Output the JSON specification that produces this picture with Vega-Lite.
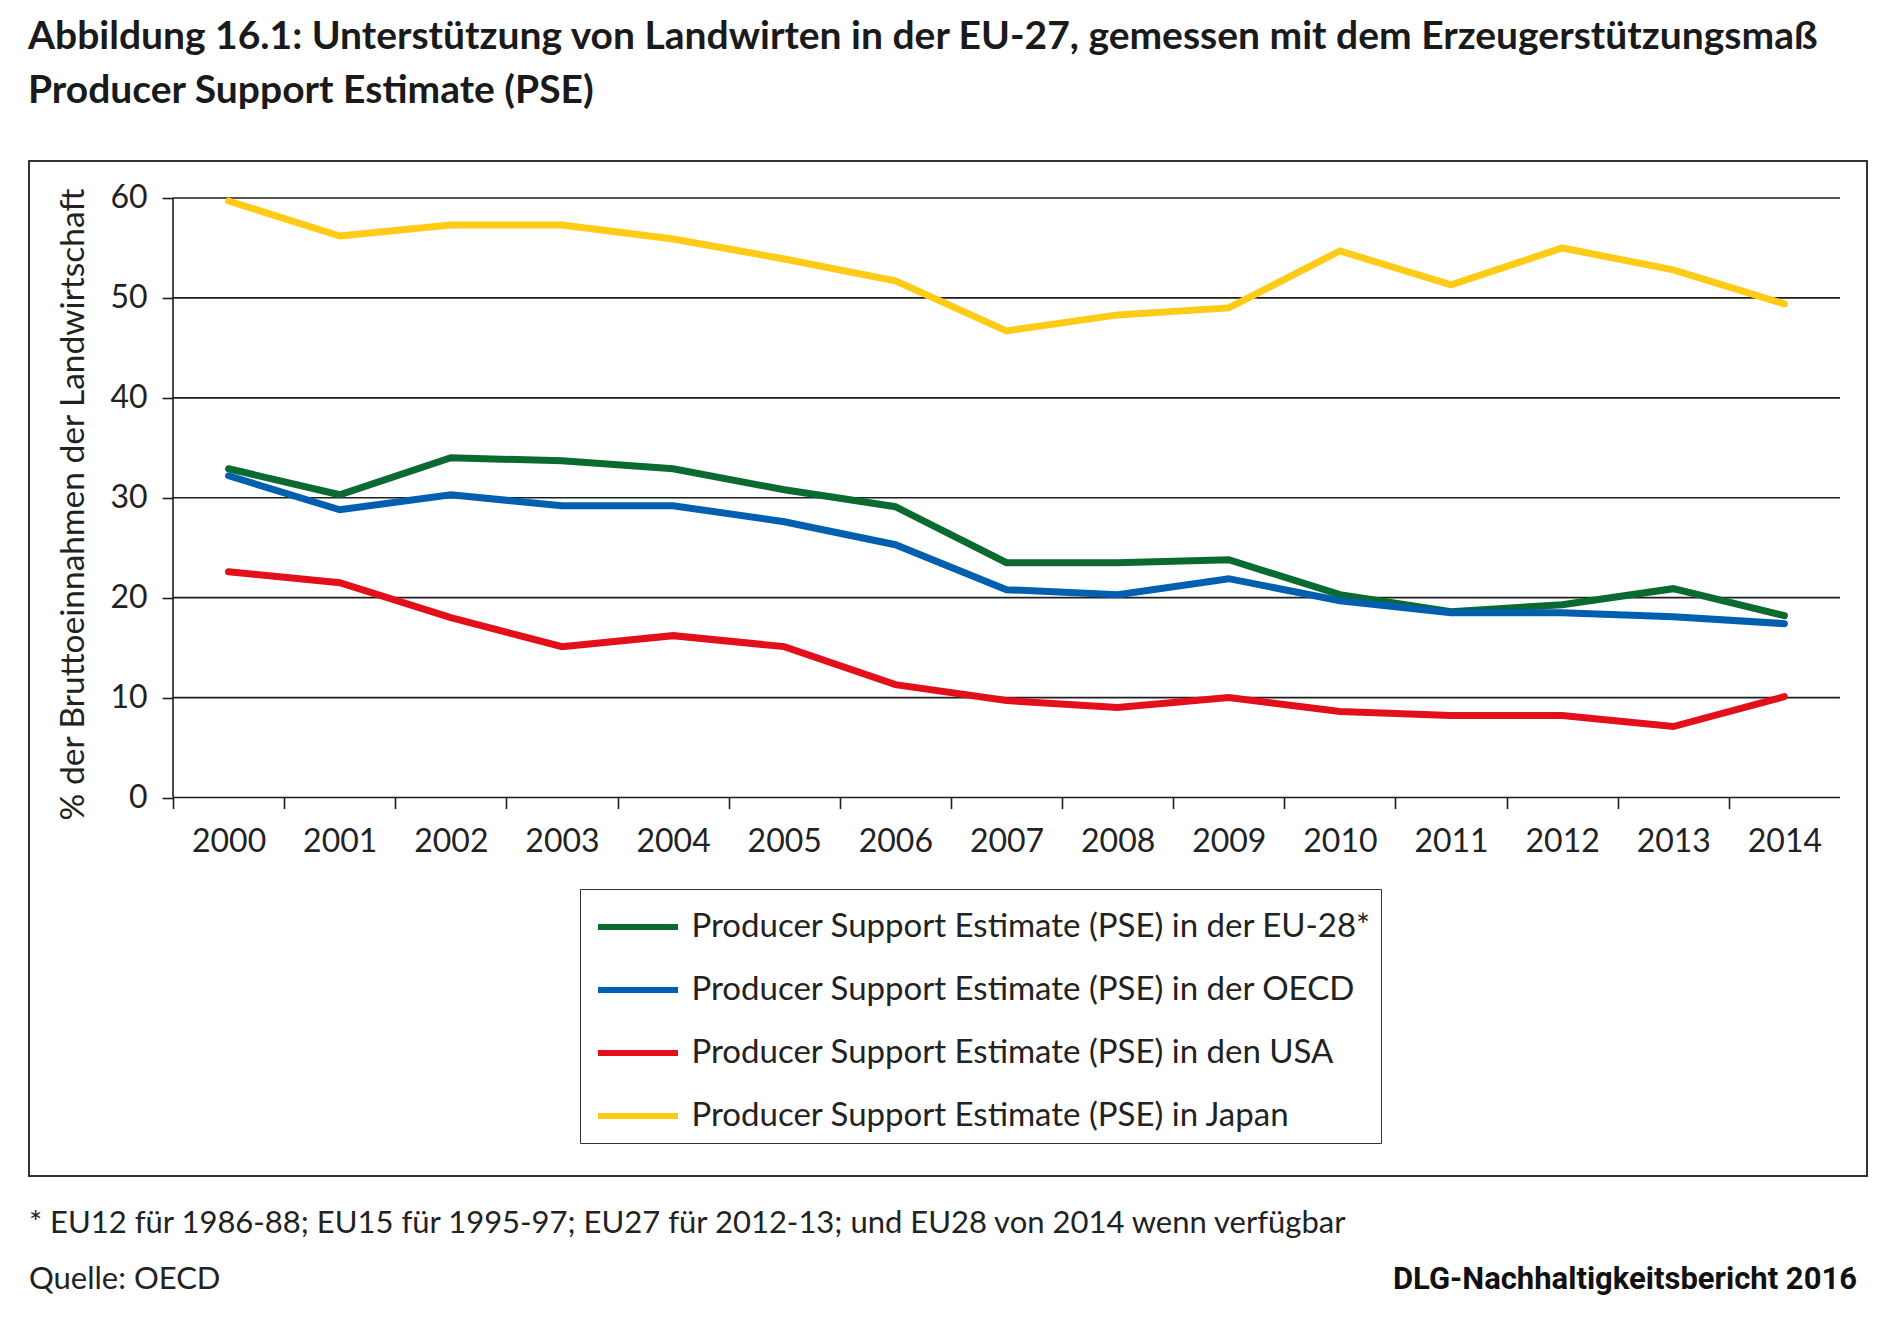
{
  "$schema": "https://vega.github.io/schema/vega-lite/v6.json",
  "background": "white",
  "padding": {"left": 28, "top": 18, "right": 34, "bottom": 30},
  "bounds": "flush",
  "spacing": 57,
  "title": {
    "text": ["Abbildung 16.1: Unterstützung von Landwirten in der EU-27, gemessen mit dem Erzeugerstützungsmaß", "Producer Support Estimate (PSE)"],
    "anchor": "start",
    "font": "Lato",
    "fontSize": 39,
    "fontWeight": "bold",
    "color": "#1a1a1a",
    "lineHeight": 54,
    "offset": 49
  },
  "config": {"font": "Lato"},
  "vconcat": [
    {
      "width": 1838,
      "height": 1015,
      "view": {"stroke": "#333333", "strokeWidth": 2},
      "layer": [
        {
          "data": {"values": [{"wert": 0}, {"wert": 10}, {"wert": 20}, {"wert": 30}, {"wert": 40}, {"wert": 50}, {"wert": 60}]},
          "mark": {"type": "rule", "color": "#1e1e1e", "strokeWidth": 1.6},
          "encoding": {
            "y": {"field": "wert", "type": "quantitative", "scale": {"domain": [-37.88, 63.703], "nice": false, "zero": false},
              "axis": {"values": [0, 10, 20, 30, 40, 50, 60], "tickSize": 11, "tickColor": "#1e1e1e", "tickWidth": 1.6, "domain": false, "grid": false, "labelPadding": 15, "labelFontSize": 32, "labelFont": "Lato", "labelColor": "#222222", "labelFlush": false, "offset": -144, "title": "% der Bruttoeinnahmen der Landwirtschaft", "titleFont": "Lato", "titleFontSize": 33.5, "titleFontWeight": "normal", "titleColor": "#222222", "titleX": -90, "titleY": 343, "titleBaseline": "alphabetic", "titleAngle": 270}},
            "x": {"datum": 1999.5, "type": "quantitative", "scale": {"domain": [1998.2042, 2014.743], "nice": false, "zero": false},
              "axis": {"values": [2000, 2001, 2002, 2003, 2004, 2005, 2006, 2007, 2008, 2009, 2010, 2011, 2012, 2013, 2014, 2015], "format": "d", "labelExpr": "datum.value == 2015 ? '' : datum.label", "tickOffset": -55.56, "labelOffset": 55.56, "tickSize": 11, "tickColor": "#1e1e1e", "tickWidth": 1.6, "domain": false, "grid": false, "labelPadding": 18, "labelFontSize": 32, "labelFont": "Lato", "labelColor": "#222222", "labelFlush": false, "labelOverlap": false, "offset": -378.5, "title": null}},
            "x2": {"datum": 2014.5}
          }
        },
        {
          "data": {"values": [{}]},
          "mark": {"type": "rule", "color": "#1e1e1e", "strokeWidth": 1.6},
          "encoding": {
            "x": {"datum": 1999.5, "type": "quantitative", "scale": {"domain": [1998.2042, 2014.743], "nice": false, "zero": false},
              "axis": {"values": [2000, 2001, 2002, 2003, 2004, 2005, 2006, 2007, 2008, 2009, 2010, 2011, 2012, 2013, 2014, 2015], "format": "d", "labelExpr": "datum.value == 2015 ? '' : datum.label", "tickOffset": -55.56, "labelOffset": 55.56, "tickSize": 11, "tickColor": "#1e1e1e", "tickWidth": 1.6, "domain": false, "grid": false, "labelPadding": 18, "labelFontSize": 32, "labelFont": "Lato", "labelColor": "#222222", "labelFlush": false, "labelOverlap": false, "offset": -378.5, "title": null}},
            "y": {"datum": 0, "type": "quantitative", "scale": {"domain": [-37.88, 63.703], "nice": false, "zero": false},
              "axis": {"values": [0, 10, 20, 30, 40, 50, 60], "tickSize": 11, "tickColor": "#1e1e1e", "tickWidth": 1.6, "domain": false, "grid": false, "labelPadding": 15, "labelFontSize": 32, "labelFont": "Lato", "labelColor": "#222222", "labelFlush": false, "offset": -144, "title": "% der Bruttoeinnahmen der Landwirtschaft", "titleFont": "Lato", "titleFontSize": 33.5, "titleFontWeight": "normal", "titleColor": "#222222", "titleX": -90, "titleY": 343, "titleBaseline": "alphabetic", "titleAngle": 270}},
            "y2": {"datum": 60}
          }
        },
        {
          "data": {"values": [
            {"Jahr": 2000, "Reihe": "Producer Support Estimate (PSE) in der EU-28*", "Wert": 32.9},
            {"Jahr": 2001, "Reihe": "Producer Support Estimate (PSE) in der EU-28*", "Wert": 30.3},
            {"Jahr": 2002, "Reihe": "Producer Support Estimate (PSE) in der EU-28*", "Wert": 34.0},
            {"Jahr": 2003, "Reihe": "Producer Support Estimate (PSE) in der EU-28*", "Wert": 33.7},
            {"Jahr": 2004, "Reihe": "Producer Support Estimate (PSE) in der EU-28*", "Wert": 32.9},
            {"Jahr": 2005, "Reihe": "Producer Support Estimate (PSE) in der EU-28*", "Wert": 30.8},
            {"Jahr": 2006, "Reihe": "Producer Support Estimate (PSE) in der EU-28*", "Wert": 29.1},
            {"Jahr": 2007, "Reihe": "Producer Support Estimate (PSE) in der EU-28*", "Wert": 23.5},
            {"Jahr": 2008, "Reihe": "Producer Support Estimate (PSE) in der EU-28*", "Wert": 23.5},
            {"Jahr": 2009, "Reihe": "Producer Support Estimate (PSE) in der EU-28*", "Wert": 23.8},
            {"Jahr": 2010, "Reihe": "Producer Support Estimate (PSE) in der EU-28*", "Wert": 20.3},
            {"Jahr": 2011, "Reihe": "Producer Support Estimate (PSE) in der EU-28*", "Wert": 18.6},
            {"Jahr": 2012, "Reihe": "Producer Support Estimate (PSE) in der EU-28*", "Wert": 19.3},
            {"Jahr": 2013, "Reihe": "Producer Support Estimate (PSE) in der EU-28*", "Wert": 20.9},
            {"Jahr": 2014, "Reihe": "Producer Support Estimate (PSE) in der EU-28*", "Wert": 18.2},
            {"Jahr": 2000, "Reihe": "Producer Support Estimate (PSE) in der OECD", "Wert": 32.2},
            {"Jahr": 2001, "Reihe": "Producer Support Estimate (PSE) in der OECD", "Wert": 28.8},
            {"Jahr": 2002, "Reihe": "Producer Support Estimate (PSE) in der OECD", "Wert": 30.3},
            {"Jahr": 2003, "Reihe": "Producer Support Estimate (PSE) in der OECD", "Wert": 29.2},
            {"Jahr": 2004, "Reihe": "Producer Support Estimate (PSE) in der OECD", "Wert": 29.2},
            {"Jahr": 2005, "Reihe": "Producer Support Estimate (PSE) in der OECD", "Wert": 27.6},
            {"Jahr": 2006, "Reihe": "Producer Support Estimate (PSE) in der OECD", "Wert": 25.3},
            {"Jahr": 2007, "Reihe": "Producer Support Estimate (PSE) in der OECD", "Wert": 20.8},
            {"Jahr": 2008, "Reihe": "Producer Support Estimate (PSE) in der OECD", "Wert": 20.3},
            {"Jahr": 2009, "Reihe": "Producer Support Estimate (PSE) in der OECD", "Wert": 21.9},
            {"Jahr": 2010, "Reihe": "Producer Support Estimate (PSE) in der OECD", "Wert": 19.7},
            {"Jahr": 2011, "Reihe": "Producer Support Estimate (PSE) in der OECD", "Wert": 18.5},
            {"Jahr": 2012, "Reihe": "Producer Support Estimate (PSE) in der OECD", "Wert": 18.5},
            {"Jahr": 2013, "Reihe": "Producer Support Estimate (PSE) in der OECD", "Wert": 18.1},
            {"Jahr": 2014, "Reihe": "Producer Support Estimate (PSE) in der OECD", "Wert": 17.4},
            {"Jahr": 2000, "Reihe": "Producer Support Estimate (PSE) in den USA", "Wert": 22.6},
            {"Jahr": 2001, "Reihe": "Producer Support Estimate (PSE) in den USA", "Wert": 21.5},
            {"Jahr": 2002, "Reihe": "Producer Support Estimate (PSE) in den USA", "Wert": 18.0},
            {"Jahr": 2003, "Reihe": "Producer Support Estimate (PSE) in den USA", "Wert": 15.1},
            {"Jahr": 2004, "Reihe": "Producer Support Estimate (PSE) in den USA", "Wert": 16.2},
            {"Jahr": 2005, "Reihe": "Producer Support Estimate (PSE) in den USA", "Wert": 15.1},
            {"Jahr": 2006, "Reihe": "Producer Support Estimate (PSE) in den USA", "Wert": 11.3},
            {"Jahr": 2007, "Reihe": "Producer Support Estimate (PSE) in den USA", "Wert": 9.7},
            {"Jahr": 2008, "Reihe": "Producer Support Estimate (PSE) in den USA", "Wert": 9.0},
            {"Jahr": 2009, "Reihe": "Producer Support Estimate (PSE) in den USA", "Wert": 10.0},
            {"Jahr": 2010, "Reihe": "Producer Support Estimate (PSE) in den USA", "Wert": 8.6},
            {"Jahr": 2011, "Reihe": "Producer Support Estimate (PSE) in den USA", "Wert": 8.2},
            {"Jahr": 2012, "Reihe": "Producer Support Estimate (PSE) in den USA", "Wert": 8.2},
            {"Jahr": 2013, "Reihe": "Producer Support Estimate (PSE) in den USA", "Wert": 7.1},
            {"Jahr": 2014, "Reihe": "Producer Support Estimate (PSE) in den USA", "Wert": 10.1},
            {"Jahr": 2000, "Reihe": "Producer Support Estimate (PSE) in Japan", "Wert": 59.7},
            {"Jahr": 2001, "Reihe": "Producer Support Estimate (PSE) in Japan", "Wert": 56.2},
            {"Jahr": 2002, "Reihe": "Producer Support Estimate (PSE) in Japan", "Wert": 57.3},
            {"Jahr": 2003, "Reihe": "Producer Support Estimate (PSE) in Japan", "Wert": 57.3},
            {"Jahr": 2004, "Reihe": "Producer Support Estimate (PSE) in Japan", "Wert": 55.9},
            {"Jahr": 2005, "Reihe": "Producer Support Estimate (PSE) in Japan", "Wert": 53.9},
            {"Jahr": 2006, "Reihe": "Producer Support Estimate (PSE) in Japan", "Wert": 51.7},
            {"Jahr": 2007, "Reihe": "Producer Support Estimate (PSE) in Japan", "Wert": 46.7},
            {"Jahr": 2008, "Reihe": "Producer Support Estimate (PSE) in Japan", "Wert": 48.3},
            {"Jahr": 2009, "Reihe": "Producer Support Estimate (PSE) in Japan", "Wert": 49.0},
            {"Jahr": 2010, "Reihe": "Producer Support Estimate (PSE) in Japan", "Wert": 54.7},
            {"Jahr": 2011, "Reihe": "Producer Support Estimate (PSE) in Japan", "Wert": 51.3},
            {"Jahr": 2012, "Reihe": "Producer Support Estimate (PSE) in Japan", "Wert": 55.0},
            {"Jahr": 2013, "Reihe": "Producer Support Estimate (PSE) in Japan", "Wert": 52.8},
            {"Jahr": 2014, "Reihe": "Producer Support Estimate (PSE) in Japan", "Wert": 49.4}
          ]},
          "mark": {"type": "line", "strokeWidth": 7, "strokeCap": "round", "strokeJoin": "miter"},
          "encoding": {
            "x": {
              "field": "Jahr", "type": "quantitative",
              "scale": {"domain": [1998.2042, 2014.743], "nice": false, "zero": false},
              "axis": {"values": [2000, 2001, 2002, 2003, 2004, 2005, 2006, 2007, 2008, 2009, 2010, 2011, 2012, 2013, 2014, 2015], "format": "d", "labelExpr": "datum.value == 2015 ? '' : datum.label", "tickOffset": -55.56, "labelOffset": 55.56, "tickSize": 11, "tickColor": "#1e1e1e", "tickWidth": 1.6, "domain": false, "grid": false, "labelPadding": 18, "labelFontSize": 32, "labelFont": "Lato", "labelColor": "#222222", "labelFlush": false, "labelOverlap": false, "offset": -378.5, "title": null}
            },
            "y": {
              "field": "Wert", "type": "quantitative",
              "scale": {"domain": [-37.88, 63.703], "nice": false, "zero": false},
              "axis": {"values": [0, 10, 20, 30, 40, 50, 60], "tickSize": 11, "tickColor": "#1e1e1e", "tickWidth": 1.6, "domain": false, "grid": false, "labelPadding": 15, "labelFontSize": 32, "labelFont": "Lato", "labelColor": "#222222", "labelFlush": false, "offset": -144, "title": "% der Bruttoeinnahmen der Landwirtschaft", "titleFont": "Lato", "titleFontSize": 33.5, "titleFontWeight": "normal", "titleColor": "#222222", "titleX": -90, "titleY": 343, "titleBaseline": "alphabetic", "titleAngle": 270}
            },
            "color": {
              "field": "Reihe", "type": "nominal",
              "scale": {
                "domain": ["Producer Support Estimate (PSE) in der EU-28*", "Producer Support Estimate (PSE) in der OECD", "Producer Support Estimate (PSE) in den USA", "Producer Support Estimate (PSE) in Japan"],
                "range": ["#0b6a30", "#005fae", "#e3101b", "#fecb17"]
              },
              "legend": {
                "title": " ",
                "titleFontSize": 2,
                "titlePadding": 10,
                "orient": "none",
                "legendX": 551,
                "legendY": 728,
                "direction": "vertical",
                "fillColor": "white",
                "strokeColor": "#333333",
                "padding": 9.5,
                "symbolType": "M-0.8,0L7.2,0",
                "symbolSize": 400,
                "symbolStrokeWidth": 6,
                "labelOffset": 69,
                "labelFont": "Lato",
                "labelFontSize": 33,
                "labelColor": "#222222",
                "labelLimit": 2000,
                "rowPadding": 29
              }
            }
          }
        }
      ]
    },
    {
      "width": 1828,
      "height": 56,
      "view": {"stroke": null},
      "data": {"values": [
        {"zeile": "1", "seite": "links", "text": "* EU12 für 1986-88; EU15 für 1995-97; EU27 für 2012-13; und EU28 von 2014 wenn verfügbar"},
        {"zeile": "2", "seite": "links", "text": "Quelle: OECD"},
        {"zeile": "2", "seite": "rechts", "text": "DLG-Nachhaltigkeitsbericht 2016"}
      ]},
      "layer": [
        {
          "transform": [{"filter": "datum.seite == 'links'"}],
          "mark": {"type": "text", "align": "left", "baseline": "alphabetic", "font": "Lato", "fontSize": 31, "color": "#222222"},
          "encoding": {
            "x": {"field": "seite", "type": "nominal", "scale": {"type": "point", "domain": ["links", "rechts"], "padding": 0}, "axis": null},
            "y": {"field": "zeile", "type": "nominal", "scale": {"type": "point", "domain": ["1", "2"], "padding": 0}, "axis": null},
            "text": {"field": "text"}
          }
        },
        {
          "transform": [{"filter": "datum.seite == 'rechts'"}],
          "mark": {"type": "text", "align": "right", "baseline": "alphabetic", "font": "Roboto", "fontWeight": "bold", "fontSize": 31, "color": "#111111"},
          "encoding": {
            "x": {"field": "seite", "type": "nominal", "scale": {"type": "point", "domain": ["links", "rechts"], "padding": 0}, "axis": null},
            "y": {"field": "zeile", "type": "nominal", "scale": {"type": "point", "domain": ["1", "2"], "padding": 0}, "axis": null},
            "text": {"field": "text"}
          }
        }
      ]
    }
  ]
}
